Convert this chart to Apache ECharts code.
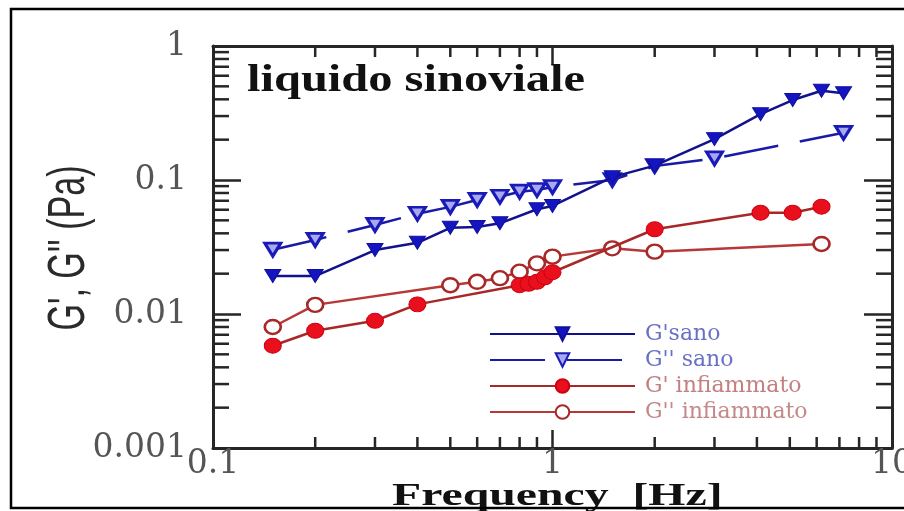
<!DOCTYPE html>
<html>
<head>
<meta charset="utf-8">
<script src="https://cdn.jsdelivr.net/npm/echarts@6/dist/echarts.min.js"></script>
<style>
html,body{margin:0;padding:0;background:#fff;}
#chart{width:904px;height:511px;}
</style>
</head>
<body>
<div id="chart"></div>
<script>
// ---- data ----
const freqGpSano  = [0.15, 0.2, 0.3, 0.4, 0.5, 0.6, 0.7, 0.9, 1.0, 1.5, 2, 3, 4.1, 5.1, 6.2, 7.2];
const valGpSano   = [0.0192, 0.0192, 0.030, 0.0340, 0.0440, 0.0446, 0.0475, 0.0605, 0.064, 0.105, 0.128, 0.202, 0.31, 0.395, 0.464, 0.444];

const freqGppSano = [0.15, 0.2, 0.3, 0.4, 0.5, 0.6, 0.7, 0.8, 0.9, 1.0, 1.5, 2, 3, 7.2];
const valGppSano  = [0.0302, 0.0357, 0.0462, 0.0560, 0.0630, 0.071, 0.075, 0.0818, 0.0842, 0.0887, 0.100, 0.127, 0.145, 0.225];

const freqGpInf   = [0.15, 0.2, 0.3, 0.4, 0.8, 0.85, 0.9, 0.95, 1.0, 2, 4.1, 5.1, 6.2];
const valGpInf    = [0.0058, 0.0075, 0.0089, 0.0118, 0.0164, 0.0168, 0.0174, 0.0188, 0.0205, 0.0429, 0.057, 0.057, 0.0632];

const freqGppInf  = [0.15, 0.2, 0.5, 0.6, 0.7, 0.8, 0.9, 1.0, 1.5, 2, 6.2];
const valGppInf   = [0.0080, 0.0117, 0.0164, 0.0174, 0.0185, 0.0207, 0.0239, 0.0268, 0.0309, 0.0292, 0.0333];

const seriesNames = ["G'sano", "G'' sano", "G' infiammato", "G'' infiammato"];
const xMin = 0.1, xMax = 10, yMin = 0.001, yMax = 1;
const xMinorTicks = [0.2, 0.3, 0.4, 0.5, 0.6, 0.7, 0.8, 0.9, 2, 3, 4, 5, 6, 7, 8, 9];
const yMinorTicks = [0.002, 0.003, 0.004, 0.005, 0.006, 0.007, 0.008, 0.009,
                     0.02, 0.03, 0.04, 0.05, 0.06, 0.07, 0.08, 0.09,
                     0.2, 0.3, 0.4, 0.5, 0.6, 0.7, 0.8, 0.9];
const titleText = 'liquido sinoviale';
const xTitle = 'Frequency  [Hz]';
const yTitle = "G', G'' (Pa)";

function pairs(xs, ys) { return xs.map((v, i) => [v, ys[i]]); }

const AXIS_COLOR = '#262626';
const labelStyle = { fontFamily: 'DejaVu Serif', fontSize: 33, color: '#555555' };

function xAxisDef(pos) {
  return {
    type: 'log', logBase: 10, min: xMin, max: xMax, position: pos,
    axisLine: { show: true, lineStyle: { color: AXIS_COLOR, width: 3 } },
    axisTick: { show: true, inside: true, length: 18, lineStyle: { color: AXIS_COLOR, width: 2.5 } },
    axisLabel: pos === 'bottom' ? Object.assign({ show: true, margin: 0 }, labelStyle) : { show: false },
    splitLine: { show: false }, minorTick: { show: false }
  };
}
function yAxisDef(pos) {
  return {
    type: 'log', logBase: 10, min: yMin, max: yMax, position: pos,
    axisLine: { show: true, lineStyle: { color: AXIS_COLOR, width: 3 } },
    axisTick: { show: true, inside: true, length: 28, lineStyle: { color: AXIS_COLOR, width: 2.5 } },
    axisLabel: pos === 'left' ? Object.assign({ show: true, margin: 26 }, labelStyle) : { show: false },
    splitLine: { show: false }, minorTick: { show: false }
  };
}

function minorTickSeries(values, isX) {
  return {
    type: 'custom', coordinateSystem: 'cartesian2d', xAxisIndex: 0, yAxisIndex: 0,
    silent: true, z: 4,
    data: values.map(v => isX ? [v, 0.01] : [1, v]),
    encode: { x: 0, y: 1 },
    renderItem: function (params, api) {
      const st = { stroke: AXIS_COLOR, lineWidth: 2.5 };
      if (isX) {
        const v = api.value(0);
        const b = api.coord([v, yMin]);
        const t = api.coord([v, yMax]);
        return { type: 'group', children: [
          { type: 'line', shape: { x1: b[0], y1: b[1], x2: b[0], y2: b[1] - 11 }, style: st },
          { type: 'line', shape: { x1: t[0], y1: t[1], x2: t[0], y2: t[1] + 11 }, style: st }
        ]};
      } else {
        const v = api.value(1);
        const l = api.coord([xMin, v]);
        const r = api.coord([xMax, v]);
        return { type: 'group', children: [
          { type: 'line', shape: { x1: l[0], y1: l[1], x2: l[0] + 16, y2: l[1] }, style: st },
          { type: 'line', shape: { x1: r[0], y1: r[1], x2: r[0] - 16, y2: r[1] }, style: st }
        ]};
      }
    }
  };
}

const chart = echarts.init(document.getElementById('chart'), null, { renderer: 'canvas' });

chart.setOption({
  backgroundColor: '#ffffff',
  animation: false,
  grid: { left: 213, right: 12, top: 46, bottom: 63, containLabel: false, outerBoundsMode: 'none' },
  xAxis: [xAxisDef('bottom'), xAxisDef('top')],
  yAxis: [yAxisDef('left'), yAxisDef('right')],
  legend: {
    orient: 'vertical', left: 484, top: 318,
    itemWidth: 145, itemHeight: 17, itemGap: 4,
    selectedMode: false,
    textStyle: { fontFamily: 'DejaVu Serif', fontSize: 22, lineHeight: 22, padding: [0, 0, 0, 5] },
    data: [
      { name: seriesNames[0], textStyle: { color: '#6a70c4' } },
      { name: seriesNames[1], textStyle: { color: '#6a70c4' } },
      { name: seriesNames[2], textStyle: { color: '#c48080' } },
      { name: seriesNames[3], textStyle: { color: '#c48888' } }
    ]
  },
  graphic: [
    { type: 'rect', z: 100, silent: true,
      shape: { x: 11, y: 9, width: 905, height: 499 },
      style: { fill: 'none', stroke: '#000', lineWidth: 2.5 } },
    { type: 'text', x: 247, y: 81, scaleX: 1.31, z: 50,
      style: { text: titleText, font: 'bold 37px "Liberation Serif"', fill: '#111', align: 'left', verticalAlign: 'middle' } },
    { type: 'text', x: 392, y: 497, scaleX: 1.54, z: 50,
      style: { text: xTitle, font: 'bold 31px "Liberation Serif"', fill: '#111', align: 'left', verticalAlign: 'middle' } },
    { type: 'text', x: 70, y: 248, rotation: Math.PI / 2, scaleY: 1.5, z: 50,
      style: { text: yTitle, font: '34px "Liberation Sans"', fill: '#2a2a2a', align: 'center', verticalAlign: 'middle' } }
  ],
  series: [
    minorTickSeries(xMinorTicks, true),
    minorTickSeries(yMinorTicks, false),
    {
      name: seriesNames[0], type: 'line', data: pairs(freqGpSano, valGpSano), z: 10,
      symbol: 'triangle', symbolRotate: 180, symbolSize: [16, 13],
      lineStyle: { color: '#12128e', width: 2.5 },
      itemStyle: { color: '#1414c0', borderColor: '#10109a', borderWidth: 1 }
    },
    {
      name: seriesNames[1], type: 'line', data: pairs(freqGppSano, valGppSano), z: 9,
      symbol: 'triangle', symbolRotate: 180, symbolSize: [16, 13],
      lineStyle: { color: '#1a1aa8', width: 2.5, type: [55, 22] },
      itemStyle: { color: '#a8a8f0', borderColor: '#1a1ab8', borderWidth: 3 }
    },
    {
      name: seriesNames[3], type: 'line', data: pairs(freqGppInf, valGppInf), z: 7,
      symbol: 'circle', symbolSize: [16, 14],
      lineStyle: { color: '#b83838', width: 2.5 },
      itemStyle: { color: '#ffffff', borderColor: '#a82828', borderWidth: 2.5 }
    },
    {
      name: seriesNames[2], type: 'line', data: pairs(freqGpInf, valGpInf), z: 8,
      symbol: 'circle', symbolSize: [17, 15],
      lineStyle: { color: '#a82828', width: 2.5 },
      itemStyle: { color: '#e8101c', borderColor: '#d00010', borderWidth: 1 }
    }
  ]
});
</script>
</body>
</html>
